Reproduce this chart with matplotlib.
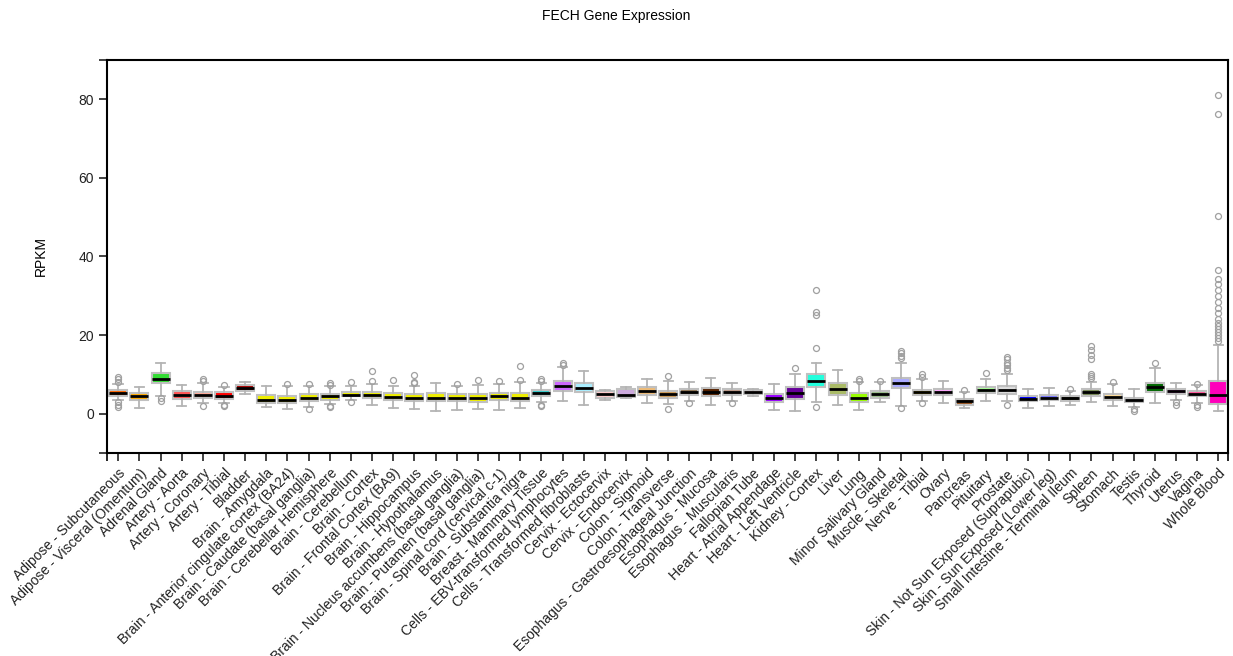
"""Box plot of FECH expression (RPKM) across GTEx tissues."""
import matplotlib.pyplot as plt

plt.rcParams['font.family'] = ['Liberation Sans', 'DejaVu Sans']

tissues = [
    'Adipose - Subcutaneous', 'Adipose - Visceral (Omentum)', 'Adrenal Gland',
    'Artery - Aorta', 'Artery - Coronary', 'Artery - Tibial', 'Bladder',
    'Brain - Amygdala', 'Brain - Anterior cingulate cortex (BA24)',
    'Brain - Caudate (basal ganglia)', 'Brain - Cerebellar Hemisphere',
    'Brain - Cerebellum', 'Brain - Cortex', 'Brain - Frontal Cortex (BA9)',
    'Brain - Hippocampus', 'Brain - Hypothalamus',
    'Brain - Nucleus accumbens (basal ganglia)', 'Brain - Putamen (basal ganglia)',
    'Brain - Spinal cord (cervical c-1)', 'Brain - Substantia nigra',
    'Breast - Mammary Tissue', 'Cells - EBV-transformed lymphocytes',
    'Cells - Transformed fibroblasts', 'Cervix - Ectocervix', 'Cervix - Endocervix',
    'Colon - Sigmoid', 'Colon - Transverse', 'Esophagus - Gastroesophageal Junction',
    'Esophagus - Mucosa', 'Esophagus - Muscularis', 'Fallopian Tube',
    'Heart - Atrial Appendage', 'Heart - Left Ventricle', 'Kidney - Cortex', 'Liver',
    'Lung', 'Minor Salivary Gland', 'Muscle - Skeletal', 'Nerve - Tibial', 'Ovary',
    'Pancreas', 'Pituitary', 'Prostate', 'Skin - Not Sun Exposed (Suprapubic)',
    'Skin - Sun Exposed (Lower leg)', 'Small Intestine - Terminal Ileum', 'Spleen',
    'Stomach', 'Testis', 'Thyroid', 'Uterus', 'Vagina', 'Whole Blood',
]

tissue_colors = [
    '#FF6600', '#FFAA00', '#33DD33', '#FF5555', '#FFAA99', '#FF0000', '#AA0000',
    '#EEEE00', '#EEEE00', '#EEEE00', '#EEEE00', '#EEEE00', '#EEEE00', '#EEEE00',
    '#EEEE00', '#EEEE00', '#EEEE00', '#EEEE00', '#EEEE00', '#EEEE00',
    '#33CCCC', '#CC66FF', '#AAEEFF', '#FFCCCC', '#CCAADD', '#EEBB77', '#CC9955',
    '#8B7355', '#552200', '#BB9988', '#FFCCCC', '#9900FF', '#660099', '#22FFDD',
    '#AABB66', '#99FF00', '#99BB88', '#AAAAFF', '#FFD700', '#FFAAFF', '#995522',
    '#AAFF99', '#DDDDDD', '#0000FF', '#7777FF', '#555522', '#778855', '#FFDD99',
    '#AAAAAA', '#006600', '#FF66FF', '#FF5599', '#FF00BB',
]

medians = [5.3, 4.4, 8.8, 4.8, 4.7, 4.6, 6.5, 3.6, 3.6, 4.1, 4.4, 4.8, 4.7, 4.3,
           4.0, 4.1, 4.0, 4.0, 4.4, 4.1, 5.3, 7.1, 6.5, 5.0, 4.8, 5.7, 5.0, 5.6,
           5.6, 5.6, 5.5, 4.0, 5.3, 8.2, 6.3, 4.1, 5.0, 7.8, 5.4, 5.4, 3.1, 6.0,
           6.0, 3.7, 4.1, 3.9, 5.4, 4.3, 3.5, 6.7, 5.7, 5.1, 4.8]
q1 = [4.5, 3.6, 7.7, 3.8, 4.0, 3.7, 5.8, 2.6, 2.8, 3.3, 3.6, 4.4, 3.9, 3.6,
      3.1, 3.1, 3.1, 3.0, 3.5, 3.1, 4.4, 5.8, 5.4, 4.0, 4.2, 4.8, 4.0, 4.7,
      4.5, 4.8, 5.0, 2.9, 3.7, 6.7, 4.8, 2.9, 4.0, 6.5, 4.8, 4.8, 2.3, 5.2,
      5.0, 3.1, 3.5, 3.3, 4.6, 3.5, 2.9, 5.4, 5.1, 4.4, 2.5]
q3 = [6.0, 5.2, 10.3, 5.7, 5.5, 5.4, 7.3, 4.7, 4.5, 5.0, 5.0, 5.4, 5.4, 5.3,
      5.0, 5.3, 5.0, 5.0, 5.3, 5.3, 6.0, 8.2, 7.7, 5.8, 6.3, 6.7, 5.8, 6.2,
      6.5, 6.2, 6.0, 5.0, 6.7, 10.1, 7.7, 5.3, 5.7, 9.2, 6.0, 6.3, 3.7, 6.7,
      7.1, 4.6, 4.8, 4.5, 6.3, 5.1, 4.1, 7.9, 6.3, 5.7, 8.4]
whisker_low = [3.4, 1.4, 4.6, 1.9, 2.6, 2.6, 5.0, 1.6, 1.2, 1.6, 2.4, 3.6, 2.2, 1.4,
               1.2, 0.8, 0.9, 1.2, 0.9, 1.4, 2.9, 3.1, 2.3, 3.5, 3.9, 2.6, 2.5, 3.3,
               2.2, 3.3, 4.4, 0.9, 0.8, 2.9, 2.3, 1.0, 2.9, 2.0, 3.1, 2.7, 1.4, 3.1,
               3.1, 1.4, 2.0, 2.3, 2.9, 2.0, 1.6, 2.7, 3.5, 2.8, 0.8]
whisker_high = [7.6, 6.8, 12.9, 7.3, 7.8, 6.8, 8.0, 7.1, 7.0, 7.0, 7.0, 7.0, 7.5, 7.1,
                7.1, 7.7, 7.0, 7.3, 7.5, 8.0, 7.7, 11.9, 10.9, 6.0, 6.7, 8.8, 8.4, 8.0,
                9.2, 7.7, 6.3, 7.5, 10.2, 13.0, 11.2, 8.0, 8.0, 12.8, 8.8, 8.2, 5.5, 8.8,
                10.0, 6.3, 6.5, 5.8, 8.0, 7.5, 6.3, 11.7, 7.7, 7.2, 17.5]
outliers = [
    [8.1, 8.7, 9.4, 3.0, 2.3, 1.7], [], [3.9, 3.3], [], [8.2, 8.7, 2.0],
    [7.3, 2.3, 2.0], [], [], [7.6], [7.5, 1.2], [7.4, 7.8, 2.0, 1.6], [8.0, 3.0],
    [8.4, 10.8], [8.6], [7.7, 8.1, 9.9], [], [7.6], [8.6], [8.4], [8.6, 12.2],
    [8.4, 8.7, 2.2, 1.9], [12.5, 12.9], [], [], [], [], [9.6, 1.1], [2.6], [],
    [2.6], [], [], [11.5], [16.7, 25.0, 26.0, 31.5, 1.6], [], [8.4, 8.8], [8.4],
    [14.2, 14.8, 15.4, 16.0, 1.5], [9.4, 10.1, 2.6], [], [5.9], [10.3],
    [11.0, 11.7, 12.3, 13.0, 13.8, 14.3, 2.3], [], [], [6.2],
    [9.0, 9.5, 10.1, 14.0, 15.0, 16.2, 17.3], [8.0], [1.2, 0.8], [13.0],
    [3.0, 2.3], [7.6, 2.3, 1.6],
    [18.5, 19.2, 20.0, 20.7, 21.5, 22.2, 23.0, 24.2, 25.6, 27.0, 28.5, 30.0,
     31.5, 33.0, 34.3, 36.5, 50.3, 76.3, 81.1],
]


def main():
    fig = plt.figure(figsize=(12.33, 6.56), dpi=100)
    ax = fig.add_axes([0.0868, 0.3095, 0.9094, 0.599])

    stats = [
        dict(med=m, q1=a, q3=b, whislo=lo, whishi=hi, fliers=f)
        for m, a, b, lo, hi, f in zip(medians, q1, q3, whisker_low,
                                      whisker_high, outliers)
    ]
    grey = '#b4b4b4'
    parts = ax.bxp(
        stats, positions=range(len(tissues)), widths=0.85, patch_artist=True,
        boxprops=dict(edgecolor='#c0c0c0', linewidth=1.5),
        medianprops=dict(color='black', linewidth=2.0),
        whiskerprops=dict(color=grey, linewidth=1.3),
        capprops=dict(color=grey, linewidth=1.3),
        capwidths=0.45,
        flierprops=dict(marker='o', markersize=4.3, markerfacecolor='none',
                        markeredgecolor='#a0a0a0', markeredgewidth=0.9),
    )
    for box, color in zip(parts['boxes'], tissue_colors):
        box.set_facecolor(color)

    ax.set_xlim(-0.53, len(tissues) - 0.53)
    ax.set_ylim(-10, 90)
    ax.set_yticks([-10, 0, 20, 40, 60, 80, 90])
    ax.set_yticklabels(['', '0', '20', '40', '60', '80', ''])
    ax.set_xticks(range(len(tissues)))
    ax.set_xticklabels(tissues, rotation=45, ha='right', rotation_mode='anchor')
    ax.set_xticks([-0.53, len(tissues) - 0.53], minor=True)
    ax.tick_params(axis='both', labelsize=10, length=6, width=1.2,
                   colors='#222222')
    ax.tick_params(axis='x', which='minor', length=6, width=1.2)
    for spine in ax.spines.values():
        spine.set_linewidth(1.5)

    ax.set_ylabel('RPKM', fontsize=10, labelpad=22)
    fig.text(0.5, 0.976, 'FECH Gene Expression', ha='center', va='center',
             fontsize=10)

    fig.savefig('out.png', dpi=100)


if __name__ == '__main__':
    main()
